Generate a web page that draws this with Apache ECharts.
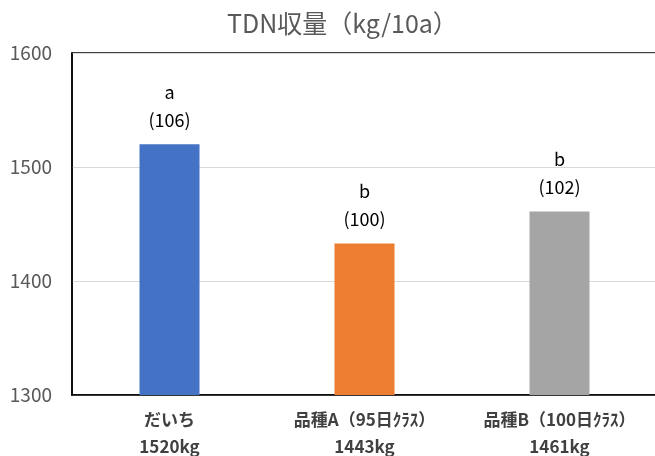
<!DOCTYPE html>
<html><head><meta charset="utf-8">
<script src="https://cdn.jsdelivr.net/npm/echarts@6/dist/echarts.min.js"></script>
<style>html,body{margin:0;padding:0;background:#fff}#c{width:655px;height:456px}</style>
</head><body><div id="c"></div>
<script>
const categories = ['だいち', '品種A（95日ｸﾗｽ）', '品種B（100日ｸﾗｽ）'];
const yieldLabels = ['1520kg', '1443kg', '1461kg'];
const values = [1520, 1433, 1461];
const letters = ['a', 'b', 'b'];
const indexValues = [106, 100, 102];
const colors = ['#4472C4', '#ED7D31', '#A5A5A5'];
const yTicks = [1300, 1400, 1500, 1600];

const FONT = '"Noto Sans CJK JP", sans-serif';
const chart = echarts.init(document.getElementById('c'));
chart.setOption({
  animation: false,
  title: {
    text: 'TDN収量（kg/10a）', left: 222, top: 6,
    textStyle: { fontFamily: FONT, fontSize: 25, fontWeight: 'normal', color: '#595959' }
  },
  grid: { left: 72, right: -2, top: 53, bottom: 61, outerBoundsMode: 'none', containLabel: false,
          show: true, borderColor: '#000', borderWidth: 1.5 },
  xAxis: {
    type: 'category',
    data: categories.map((c, i) => c + '\n' + yieldLabels[i]),
    axisLine: { show: true, lineStyle: { color: '#000', width: 1.5 } },
    axisTick: { show: false },
    axisLabel: { interval: 0, hideOverlap: false, fontFamily: FONT, fontSize: 17, fontWeight: 'bold', color: '#404040', lineHeight: 27, margin: 11 }
  },
  yAxis: {
    type: 'value', min: yTicks[0], max: yTicks[yTicks.length - 1], interval: 100,
    axisLine: { show: true, lineStyle: { color: '#000', width: 1.5 } },
    axisTick: { show: false },
    axisLabel: { fontFamily: FONT, fontSize: 19, color: '#595959', margin: 20, formatter: v => String(v) },
    splitLine: { lineStyle: { color: '#d9d9d9', width: 1 } }
  },
  series: [{
    type: 'bar',
    barWidth: 60,
    data: values.map((v, i) => ({ value: v, itemStyle: { color: colors[i] } })),
    label: {
      show: true, position: 'top', distance: 10,
      formatter: p => letters[p.dataIndex] + '\n(' + indexValues[p.dataIndex] + ')',
      fontFamily: FONT, fontSize: 18, color: '#000', lineHeight: 28
    }
  }]
});
</script></body></html>
